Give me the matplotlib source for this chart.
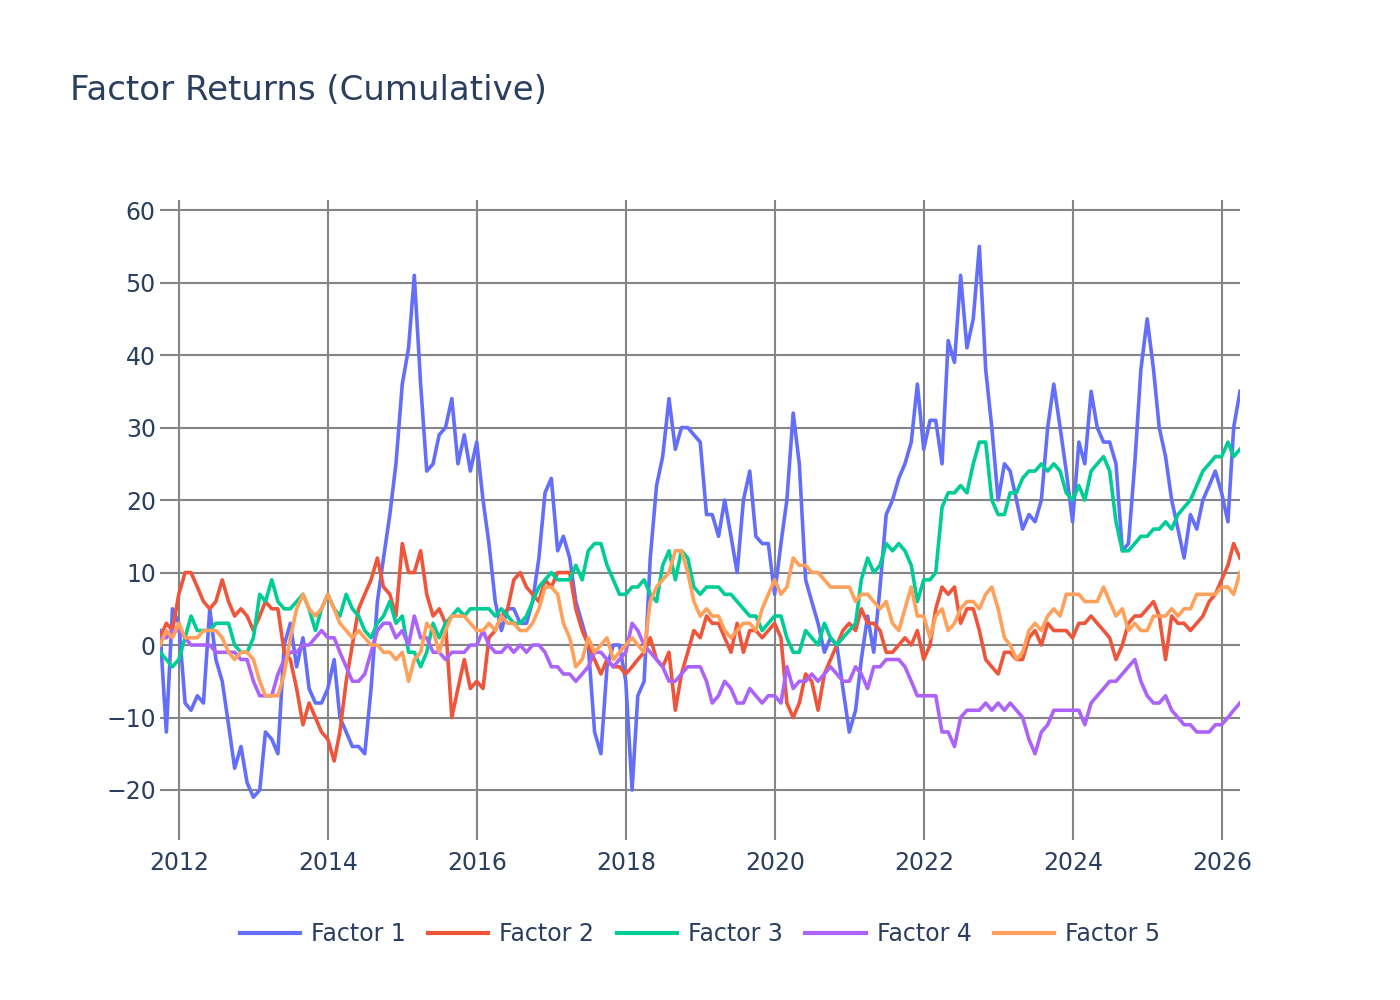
import matplotlib
matplotlib.use("Agg")
import matplotlib.pyplot as plt
import matplotlib.dates as mdates
import pandas as pd

# Monthly (month-end) readings from Sep 2011 to Mar 2026
start_date = "2011-09-30"

factor1 = [2, -12, 5, 3, -8, -9, -7, -8, 5, -2, -5, -11, -17, -14, -19, -21, -20, -12, -13, -15, 0, 3,
           -3, 1, -6, -8, -8, -6, -2, -10, -12, -14, -14, -15, -6, 6, 12, 18, 25, 36, 41, 51, 36, 24,
           25, 29, 30, 34, 25, 29, 24, 28, 20, 14, 6, 2, 5, 5, 3, 3, 6, 12, 21, 23, 13, 15,
           12, 6, 3, 0, -12, -15, -3, 0, 0, -5, -20, -7, -5, 12, 22, 26, 34, 27, 30, 30, 29,
           28, 18, 18, 15, 20, 15, 10, 20, 24, 15, 14, 14, 7, 14, 20, 32, 25, 9, 6, 3, -1, 1,
           0, -6, -12, -9, -2, 4, -1, 8, 18, 20, 23, 25, 28, 36, 27, 31, 31, 25, 42, 39, 51, 41,
           45, 55, 38, 30, 20, 25, 24, 20, 16, 18, 17, 20, 30, 36, 30, 24, 17, 28, 25, 35, 30,
           28, 28, 25, 13, 14, 25, 38, 45, 38, 30, 26, 20, 16, 12, 18, 16, 20, 22, 24, 21, 17, 30, 35]

factor2 = [1, 3, 2, 7, 10, 10, 8, 6, 5, 6, 9, 6, 4, 5, 4, 2, 4, 6, 5, 5, -1, -2,
           -6, -11, -8, -10, -12, -13, -16, -12, -5, 0, 5, 7, 9, 12, 8, 7, 4, 14, 10, 10, 13, 7,
           4, 5, 3, -10, -6, -2, -6, -5, -6, 1, 2, 4, 5, 9, 10, 8, 7, 6, 9, 8, 10, 10,
           10, 5, 2, 0, -2, -4, -2, -3, -3, -4, -3, -2, -1, 1, -2, -3, -1, -9, -4, -1, 2,
           1, 4, 3, 3, 1, -1, 3, -1, 2, 2, 1, 2, 3, 1, -8, -10, -8, -4, -5, -9, -4, -2,
           0, 2, 3, 2, 5, 3, 3, 2, -1, -1, 0, 1, 0, 2, -2, 0, 5, 8, 7, 8, 3, 5,
           5, 2, -2, -3, -4, -1, -1, -2, -2, 1, 2, 0, 3, 2, 2, 2, 1, 3, 3, 4, 3,
           2, 1, -2, 0, 3, 4, 4, 5, 6, 4, -2, 4, 3, 3, 2, 3, 4, 6, 7, 9, 11, 14, 12]

factor3 = [-1, -2, -3, -2, 1, 4, 2, 2, 2, 3, 3, 3, 0, -1, -1, 1, 7, 6, 9, 6, 5, 5,
           6, 7, 5, 2, 5, 7, 5, 4, 7, 5, 4, 2, 1, 3, 4, 6, 3, 4, -1, -1, -3, -1,
           3, 1, 3, 4, 5, 4, 5, 5, 5, 5, 4, 5, 4, 3, 3, 4, 6, 8, 9, 10, 9, 9,
           9, 11, 9, 13, 14, 14, 11, 9, 7, 7, 8, 8, 9, 7, 6, 11, 13, 9, 13, 12, 8,
           7, 8, 8, 8, 7, 7, 6, 5, 4, 4, 2, 3, 4, 4, 1, -1, -1, 2, 1, 0, 3, 1,
           0, 1, 2, 3, 9, 12, 10, 11, 14, 13, 14, 13, 11, 6, 9, 9, 10, 19, 21, 21, 22, 21,
           25, 28, 28, 20, 18, 18, 21, 21, 23, 24, 24, 25, 24, 25, 24, 21, 20, 22, 20, 24, 25,
           26, 24, 17, 13, 13, 14, 15, 15, 16, 16, 17, 16, 18, 19, 20, 22, 24, 25, 26, 26, 28, 26, 27]

factor4 = [1, 1, 2, 2, 1, 0, 0, 0, 0, -1, -1, -1, -1, -2, -2, -5, -7, -7, -7, -4, -2, -1,
           -1, 0, 0, 1, 2, 1, 1, -1, -3, -5, -5, -4, -1, 2, 3, 3, 1, 2, 0, 4, 1, 1,
           -1, -1, -2, -1, -1, -1, 0, 0, 2, 0, -1, -1, 0, -1, 0, -1, 0, 0, -1, -3, -3, -4,
           -4, -5, -4, -3, -1, -1, -2, -3, -2, -1, 3, 2, 0, -1, -2, -3, -5, -5, -4, -3, -3,
           -3, -5, -8, -7, -5, -6, -8, -8, -6, -7, -8, -7, -7, -8, -3, -6, -5, -5, -4, -5, -4, -3,
           -4, -5, -5, -3, -4, -6, -3, -3, -2, -2, -2, -3, -5, -7, -7, -7, -7, -12, -12, -14, -10, -9,
           -9, -9, -8, -9, -8, -9, -8, -9, -10, -13, -15, -12, -11, -9, -9, -9, -9, -9, -11, -8, -7,
           -6, -5, -5, -4, -3, -2, -5, -7, -8, -8, -7, -9, -10, -11, -11, -12, -12, -12, -11, -11, -10, -9, -8]

factor5 = [0, 2, 1, 3, 1, 1, 1, 2, 2, 2, 1, -1, -2, -1, -1, -2, -5, -7, -7, -7, -4, 1,
           5, 7, 5, 4, 5, 7, 5, 3, 2, 1, 2, 1, 0, 0, -1, -1, -2, -1, -5, -2, -1, 3,
           2, -1, 2, 4, 4, 4, 3, 2, 2, 3, 2, 4, 3, 3, 2, 2, 3, 5, 8, 8, 7, 3,
           1, -3, -2, 1, -1, 0, 1, -2, -1, 0, 1, 0, -1, 6, 8, 9, 10, 13, 13, 10, 6,
           4, 5, 4, 4, 2, 1, 2, 3, 3, 2, 5, 7, 9, 7, 8, 12, 11, 11, 10, 10, 9, 8,
           8, 8, 8, 6, 7, 7, 6, 5, 6, 3, 2, 5, 8, 4, 4, 1, 4, 5, 2, 3, 5, 6,
           6, 5, 7, 8, 5, 1, 0, -2, -1, 2, 3, 2, 4, 5, 4, 7, 7, 7, 6, 6, 6,
           8, 6, 4, 5, 2, 3, 2, 2, 4, 4, 4, 5, 4, 5, 5, 7, 7, 7, 7, 8, 8, 7, 10]

series_names = ["Factor 1", "Factor 2", "Factor 3", "Factor 4", "Factor 5"]
series_values = [factor1, factor2, factor3, factor4, factor5]
colors = ["#636EFA", "#EF553B", "#00CC96", "#AB63FA", "#FFA15A"]
title = "Factor Returns (Cumulative)"
y_ticks = [-20, -10, 0, 10, 20, 30, 40, 50, 60]
x_tick_years = list(range(2012, 2027, 2))

dates = pd.date_range(start_date, periods=len(factor1), freq="ME")

text_color = "#2a3f5f"
grid_color = "#858585"
plt.rcParams["font.family"] = ["DejaVu Sans"]

fig = plt.figure(figsize=(14, 10), dpi=100)
ax = fig.add_axes([0.1143, 0.16, 0.7714, 0.64])

for name, vals, c in zip(series_names, series_values, colors):
    ax.plot(dates, vals, color=c, linewidth=2.6, label=name, zorder=3)

ax.set_xlim(dates[0], dates[-1])
ax.set_ylim(-26.9, 61.4)
ax.set_yticks(y_ticks)
ax.set_xticks([pd.Timestamp(f"{y}-01-01") for y in x_tick_years])
ax.xaxis.set_major_formatter(mdates.DateFormatter("%Y"))

ax.grid(True, color=grid_color, linewidth=1.5, zorder=0)
for s in ax.spines.values():
    s.set_visible(False)
ax.tick_params(axis="both", labelcolor=text_color, labelsize=17, length=0)
ax.tick_params(axis="x", pad=8)
ax.tick_params(axis="y", pad=3)

fig.text(0.05, 0.91, title, fontsize=24.5, color=text_color, va="center", ha="left")

leg = fig.legend(loc="center", bbox_to_anchor=(0.5, 0.066), ncol=5, frameon=False,
                 fontsize=17, handlelength=2.55, columnspacing=0.95, handletextpad=0.47,
                 labelcolor=text_color)
for line in leg.get_lines():
    line.set_linewidth(3)

fig.savefig("out.png", dpi=100)
